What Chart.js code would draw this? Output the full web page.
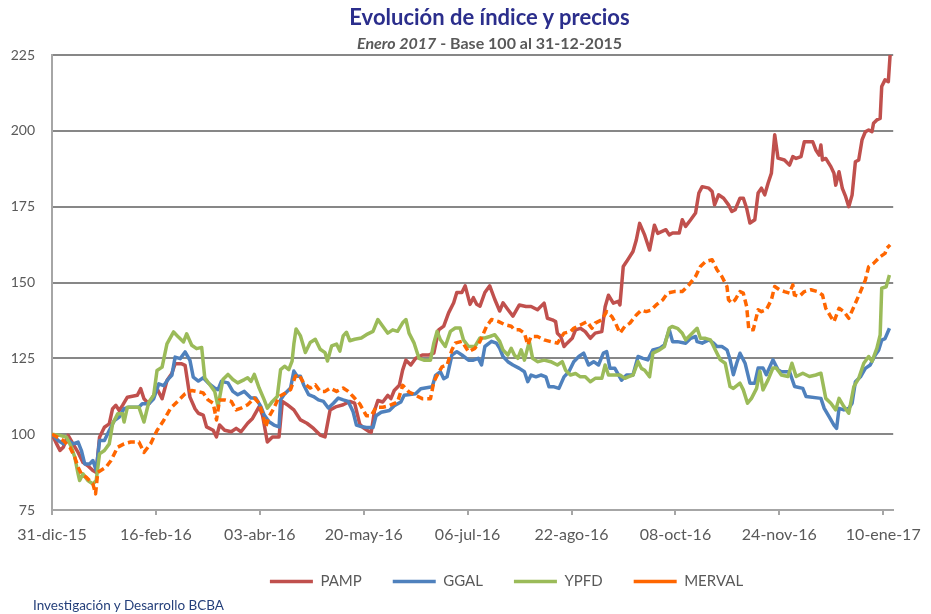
<!DOCTYPE html>
<html><head><meta charset="utf-8">
<script src="https://cdn.jsdelivr.net/npm/chart.js@4.4.1/dist/chart.umd.min.js"></script>
<style>
html,body{margin:0;padding:0;background:#fff;}
#wrap{position:relative;width:931px;height:614px;overflow:hidden;background:#fff;}
#c{position:absolute;left:0;top:0;}
.t{position:absolute;left:24px;width:931px;text-align:center;font-family:Lato,"Liberation Sans",sans-serif;white-space:nowrap;}
#title{top:3px;font-size:22px;font-weight:bold;color:#2B2E8C;line-height:28px;}
#sub{top:33px;font-size:16px;font-weight:bold;color:#595959;line-height:20px;}
#foot{position:absolute;left:33px;top:597px;font-family:Lato,sans-serif;font-size:13.5px;color:#243F7A;line-height:17px;white-space:nowrap;}
</style></head><body>
<div id="wrap"><canvas id="c" width="931" height="614"></canvas>
<div id="title" class="t">Evolución de índice y precios</div>
<div id="sub" class="t"><i>Enero 2017</i> - Base 100 al 31-12-2015</div>
<div id="foot">Investigación y Desarrollo BCBA</div></div>
<script>
// Days counted from 31-dic-15
const tickDays = [0,47,94,141,188,235,282,329,376];
const tickLabels = ['31-dic-15','16-feb-16','03-abr-16','20-may-16','06-jul-16','22-ago-16','08-oct-16','24-nov-16','10-ene-17'];
const yTicks = [75,100,125,150,175,200,225];
const seriesNames = ['PAMP','GGAL','YPFD','MERVAL'];

const pampDays = [0,2.1,3.6,5.1,7.3,9.5,11.8,14,16.2,18.5,20,21.5,23.7,25.9,27.4,28.9,30.4,31.9,34.1,38.6,40.1,41.6,43.8,46,47.5,49.8,52,54.2,55.7,58.7,60.2,62.4,64.7,66.2,68.4,69.9,72.9,74.4,75.8,78.1,81.1,83.3,85.5,88.5,90.7,93.7,95.2,96.7,97.4,99.7,102.7,104.2,106.4,109.4,112.4,115.3,118.3,121.3,123.5,125.8,128.7,131.7,134.7,136.9,139.2,140.7,142.9,144.4,145.9,147.4,149.6,151.9,153.3,154.8,157.1,158.6,160.1,162.3,164.5,167.5,170.5,172.7,174.9,177.2,179.4,181.7,183.1,185.4,186.9,189.1,190.6,192.1,193.6,195.8,198,200.3,202.5,204,206.2,208.5,211.4,214.4,216.7,219.6,222.6,224.1,226.3,227.8,228.6,230.1,231.6,233,235.3,236.8,239,241.2,243.5,245.7,248.7,250.2,251.7,253.9,256.1,256.9,258.4,259.9,262.8,264.3,265.8,268.1,270.3,272.5,274,277.7,279.2,280.7,283.7,285.1,286.6,288.9,291.1,292.6,294.1,297.1,298.6,299.7,301.5,303.8,306,307.5,309,311.2,312.7,314.2,315.7,317.9,319.4,320.9,322.4,323.9,325.4,326.9,328.4,331.3,333.6,335.1,336.6,338.8,340.3,344.1,345.5,347,347.8,348.5,350,352.3,353.7,354.5,356,357.5,359,360.4,361.9,363.4,364.9,366.4,367.9,369.4,370.9,371.6,373.1,374.6,375.3,376.8,378.3,379.1];
const pampValues = [100,96.8,94.6,95.7,99.6,96.8,94,90.7,89.6,88,87.4,99,102.3,103.4,108.4,109.5,107.8,109.5,112.2,112.8,115,111.7,110,112.8,115,111.7,117.7,120,123.2,123.2,122.7,112.2,108.4,106.9,106.3,102.4,101.3,99.1,103,101.3,100.8,101.9,100.8,103.6,105.2,109.1,106.3,100.2,97.4,99.1,99.1,110.8,109.7,108,104.7,103.6,101.9,99.7,99.1,108,109.1,109.7,110.8,110.2,103.3,102.2,101.1,100.6,107.8,111.1,110.6,112.8,111.7,114.4,116.1,121.1,124.4,122.8,125,126.1,126.1,126.7,134.4,135.6,140,143.3,146.7,146.7,148.9,142.8,145,142.8,142.2,146.7,148.9,144.4,140.6,143.3,141.1,138.9,142.6,142.1,142.1,141,143.2,138.2,137.7,137.1,133.3,132.2,128.9,130,131.6,134.4,134.9,133.8,131.6,133.3,133.8,142,145.8,143.2,143.8,142.6,155.3,156.9,160.2,164,169.5,165.6,160.7,168.9,166.2,167.4,165.7,166.3,166.3,170.7,168.5,170.7,172.9,179.5,181.6,181.1,180,175.6,178.9,177.8,175.6,173.4,174,177.8,177.8,174.5,169.6,170.7,179.5,181.1,178.9,182.7,186,198.7,191,190.4,188.7,191.5,190.9,191.5,196.4,196.4,193.7,192,195.3,190.4,190.9,188.2,186,182.1,186.5,181,178.3,175,178.8,189.8,190.4,197,199.7,200.3,199.7,202.5,203.6,204.1,214.6,216.8,216.2,225];

const ggalDays = [0,2.8,5.1,7.3,9.5,11.8,13.3,14.8,17,18.5,20,21.5,23.7,25.9,28.2,30.4,32.6,34.9,39.3,40.8,43.8,46,48.3,50.5,52.7,54.2,55.7,58,60.2,62.4,63.9,66.2,68.4,70.6,73.6,75.1,76.6,79.6,81.8,84,87,90,92.2,94.5,96,98.2,100.4,102.7,103.4,104.9,107.9,109.4,110.9,112.4,113.8,116.1,118.3,120.5,122.8,125,127.3,129.5,131.7,134,136.2,137.7,139.9,142.2,145.2,146.6,148.9,152.6,154.8,157.8,159.3,164.5,166.8,172,173.5,175.7,177.2,178.7,180.9,183.1,185.4,188.4,190.6,192.8,194.3,195.8,198.8,201,202.5,204,206.2,208.5,211.4,213.7,215.2,216.7,218.9,221.1,223.4,224.8,227.1,229.3,231.6,233.8,236,238.3,240.5,242.7,245,247.2,249.4,250.9,252.4,254.6,257.6,259.9,262.8,265.1,267.3,269.5,271.8,274.8,277,279.2,280.7,282.9,286.6,288.9,291.1,291.8,294.1,297.1,299.3,300.8,303,305.3,306.7,308.2,309.7,311.2,313.5,315.7,317.9,319.4,321.6,323.1,326.1,328.4,329.9,333.6,335.9,339.6,341.1,347.8,349.3,351.5,353.7,354.9,356,358.2,360.4,361.9,363.4,365.7,367.9,370.1,372.4,373.9,375.3,376.8,378.8];
const ggalValues = [100,97.9,96.8,97.9,96.8,97.4,94.6,90.2,90.2,91.3,88,97.9,97.9,101.2,104.5,105.6,108.4,108.9,108.9,110,110,111.7,116.6,116,118.3,119.4,125.4,124.9,127.1,124.3,118.8,117.5,118.6,116.9,115.2,114.7,117.4,116.9,114.1,113,114.1,111.9,111.9,109.1,106.3,104.1,103,102.4,111.3,113,115.2,120.8,119.1,119.1,116.3,113,112.4,111.3,110.8,108.6,110.2,111.9,111.3,110.8,107.4,103,102.5,102.2,102.2,106.1,107.2,107.8,109.4,110.6,112.8,113.3,115,115.6,119.4,120.6,118.3,118.9,126.1,127.2,126.1,124.4,124.4,125,122.8,128.9,130.6,130,128.3,125.6,123.9,122.8,121.7,120.6,117.3,119.5,118.9,119.5,118.9,115.6,115.6,115.1,118.9,120.6,123.9,125.6,126.7,122.8,123.9,122.8,126.7,127.2,121.7,121.7,117.8,119.5,119.5,125.6,125,124.5,127.8,128.3,129.4,134.4,130.5,130.5,130,131.6,132.2,130.5,130,131.1,130,128.9,128.9,127.8,124.6,119.6,123.4,126.7,123.4,116.8,116.8,121.8,121.8,119.6,124.5,121.2,120.6,120.6,115.7,115.1,112.4,111.8,108.5,105.8,103,101.9,108.5,108,108.5,110.2,117.3,118.9,121.7,122.8,126.1,127.7,131,131.5,134.9];

const ypfdDays = [0,3.6,6.6,8.8,10.3,11.8,12.5,14,16.2,18.5,20,21.5,23.7,25.9,27.4,29.7,31.9,32.6,34.1,39.3,41.6,43.8,46,47.5,49.8,52,55,57.2,59.5,60.9,63.2,65.4,67.7,69.1,71.4,73.6,75.1,77.3,79.6,81.8,84,87,88.5,90,91.5,93.7,96,97.4,99.7,101.9,103.4,105.2,107.1,108.6,109.4,110.4,112.4,114.6,116.8,119.1,121.3,123.5,124.6,126.5,128.7,130.2,131.7,133.2,134.7,136.9,139.9,142.2,145.2,147.4,149.6,151.9,154.1,156.3,158.6,160.1,161.5,163.8,166,168.2,171.2,172.7,174.2,175.7,177.9,180.2,182.4,184.6,186.1,188.4,191.3,193.6,195.8,198,200.3,202.5,204,206.2,207.7,209.2,210.7,212.2,213.7,215.9,217.4,219.6,222.6,225.6,228.6,230.8,232.3,234.5,236.8,239,241.2,243.5,245.7,248.7,250.2,251.7,256.9,259.1,260.6,262.8,265.1,266.6,268.1,270.3,271.8,274.8,277,279.2,280.5,282.9,285.1,286.6,289.6,291.8,293.3,295.6,297.8,300,302.3,304.5,306.7,308.2,311.2,312.7,314.6,316.4,318.7,320.2,321.6,323.9,326.1,327.6,329.9,332.9,334.7,336.6,339.6,342.6,345.5,347.8,350,352.3,354.5,356,358.2,360.4,362.7,364.9,367.2,369.4,370.9,373.1,374.6,375.3,377.3,378.8];
const ypfdValues = [100,99.6,99,95.7,92.4,86.9,84.7,86.9,84.7,83.6,84.7,93.5,94.6,96.8,103.4,106.7,106.7,104,108.9,108.9,104,110.6,112.8,121,122.1,129.8,133.7,132,130.4,133.1,129.3,128.2,128.6,118.6,116.3,114.1,109.1,118,119.7,118,116.9,118,118.6,117.4,119.7,115.2,111.3,108.6,110.8,112.4,121.3,122.4,121.3,124.1,129.7,134.7,132.4,126.9,130.2,131.3,128,126.9,124.1,129.1,129.7,127.4,132.4,133.6,130.8,131.3,131.7,132.8,133.9,137.8,135.6,133.3,134.4,133.9,136.7,137.8,133.3,130,125,124.4,124.4,130,133.9,131.1,128.9,133.9,135,135,131.1,128.9,128.9,131.7,131.7,132.2,132.8,130.6,127.8,126.1,128.3,126,125,127.8,124.4,130.5,125,123.9,124.4,123.9,122.8,123.9,121.1,119.5,120,118.9,118.9,117.3,118.4,118.4,122.8,119.5,119.5,118.4,118.9,119.5,123.9,121.7,121.1,118.9,126.7,127.8,128.9,134.9,135.5,134.9,133.3,131.1,133.3,134.9,131.6,131.6,131.1,127.8,124.5,123.4,115.7,115.1,116.8,114.6,110.2,111.8,115.1,120.7,114.6,117.9,121.8,121.8,119.5,119,123.4,119,120.1,119,119.5,120.1,111.8,110.2,108,111.8,109.1,106.9,115.7,118.4,123.4,125.6,124,128.3,132.7,148.1,148.6,152.5];

const mervalDays = [0,5.1,8.1,10.3,11.8,13.3,15.5,18.5,19.7,20.7,24.4,26.7,29.7,32.6,35.6,39.3,41.6,44.6,47.5,50.5,53.5,57.2,60.2,63.2,66.2,68.4,70.6,72.9,74.4,75.8,78.1,81.1,83.3,85.5,88.5,91.5,93.7,95.2,96.7,98.2,100.4,102.7,105.6,107.9,110.1,111.6,113.8,116.8,119.1,121.3,123.5,125.8,128.7,131.7,134,136.2,139.2,142.2,144.4,146.6,149.6,152.6,156.3,158.6,161.5,164.5,167.5,171.2,172.7,174.2,176.4,178.7,180.9,182.4,185.4,188.4,191.3,193.6,196.6,198.8,201.8,204.8,207.7,209.2,211.4,213.7,215.2,216.7,219.6,222.6,225.6,228.6,231.6,234.5,236,239,242,244.2,245.7,248.7,250.9,253.2,254.6,256.9,259.1,261.4,264.3,266.6,268.8,271,273.3,276.3,278.4,281.4,285.1,288.1,291.1,293.3,295.6,298.6,300.8,303,305.3,306,307.5,309,311.2,312.7,314.2,315.2,317.2,319.4,320.9,323.1,325.4,326.9,329.1,331.3,333.6,335.1,335.8,338,340.3,343.3,346.2,348.5,350,352.2,353.7,356,358.2,360.4,362.7,365.7,367.9,369.4,371.6,374.6,376.8,377.6,379.1];
const mervalValues = [100,97.9,95.7,92.4,89.1,86.9,85.8,83.6,80.3,87.4,89.1,91.3,95.7,96.8,97.4,97.4,94,96.8,101.2,104.5,108.4,111.1,113.3,114.4,114,113.6,111.3,110.2,104.7,111.3,111.3,110.8,108,108.6,109.7,111.9,110.2,106.9,102.4,105.8,108.6,112.4,113.6,114.7,119.1,119.7,116.9,115.2,116.3,114.1,114.1,115.2,114.1,115.2,114.1,112.4,110,106.1,106.1,108.9,108.9,109.4,110.6,116.1,113.9,112.8,111.7,111.7,117.2,119.4,122.2,122.8,127.8,130,130.6,127.2,128.3,130.6,135.6,137.8,137.2,136.1,135.6,134.4,134.4,133.3,129.4,132.2,132.2,131.1,130.5,130,133.3,133.8,134.9,136,137.1,134.9,136.6,137.7,140.4,138.8,137.1,133.3,135.5,136.6,139.3,140.9,140.4,140.9,142.6,144.3,146.5,147,147,149.2,152,155.3,156.9,157.5,154.2,152,148.7,144.3,143.2,144.3,147,146.5,142.1,134.4,134.4,141,140.4,141,144.3,148.7,147.6,147,146.5,149.2,145.9,145.4,147,147.6,147,145.9,141.5,138.8,137.1,141.5,140.4,138.2,142,147,150.8,155.2,156.3,158.5,159.6,161.3,162.4];

function pts(days, vals){ return days.map((d,i) => ({x:d, y:vals[i]})); }

const colors = ['#C0504D','#4F81BD','#9BBB59','#FF6600'];
const dayArrays = [pampDays, ggalDays, ypfdDays, mervalDays];
const valArrays = [pampValues, ggalValues, ypfdValues, mervalValues];

const datasets = seriesNames.map((name, i) => ({
  label: name,
  data: pts(dayArrays[i], valArrays[i]),
  borderColor: colors[i],
  backgroundColor: colors[i],
  borderWidth: 3.5,
  borderDash: i === 3 ? [7,4] : [],
  borderJoinStyle: 'round',
  pointRadius: 0,
  pointHoverRadius: 0,
  pointStyle: 'line',
  tension: 0,
  fill: false,
  order: 4 - i
}));

// shift the legend row to sit where the reference places it
const legendShift = {
  id: 'legendShift',
  afterLayout(chart) {
    if (chart.legend) { chart.legend.left += 55; chart.legend.right += 55; }
  }
};

new Chart(document.getElementById('c'), {
  type: 'line',
  data: { datasets },
  plugins: [legendShift],
  options: {
    responsive: false,
    animation: false,
    devicePixelRatio: 1,
    layout: { padding: { left: 0, right: 28, top: 55, bottom: 15 } },
    scales: {
      x: {
        type: 'linear', min: 0, max: 380.5,
        afterBuildTicks: s => { s.ticks = tickDays.map(v => ({value: v})); },
        afterFit: s => { s.height = 33; },
        ticks: {
          callback: v => { const k = tickDays.indexOf(v); return k >= 0 ? tickLabels[k] : ''; },
          autoSkip: false, maxRotation: 0, minRotation: 0, padding: 10,
          color: '#595959', font: { family: 'Lato', size: 16 }
        },
        grid: { drawOnChartArea: false, drawTicks: true, tickLength: 5, color: '#A6A6A6', lineWidth: 2 },
        border: { display: true, color: '#A6A6A6', width: 2 }
      },
      y: {
        min: 75, max: 225,
        afterBuildTicks: s => { s.ticks = yTicks.map(v => ({value: v})); },
        afterFit: s => { s.width = 52; },
        ticks: { padding: 17, color: '#595959', font: { family: 'Lato', size: 14 } },
        grid: { color: ctx => ctx.tick && ctx.tick.value === 75 ? '#A6A6A6' : '#878787', lineWidth: 2, drawTicks: false },
        border: { display: true, color: '#A6A6A6', width: 2 }
      }
    },
    plugins: {
      legend: {
        position: 'bottom',
        labels: {
          usePointStyle: true, pointStyleWidth: 43, boxHeight: 5, padding: 31,
          color: '#595959', font: { family: 'Lato', size: 15 },
          sort: (a, b) => a.datasetIndex - b.datasetIndex
        }
      },
      title: { display: false },
      tooltip: { enabled: false }
    }
  }
});
</script>
</body></html>
